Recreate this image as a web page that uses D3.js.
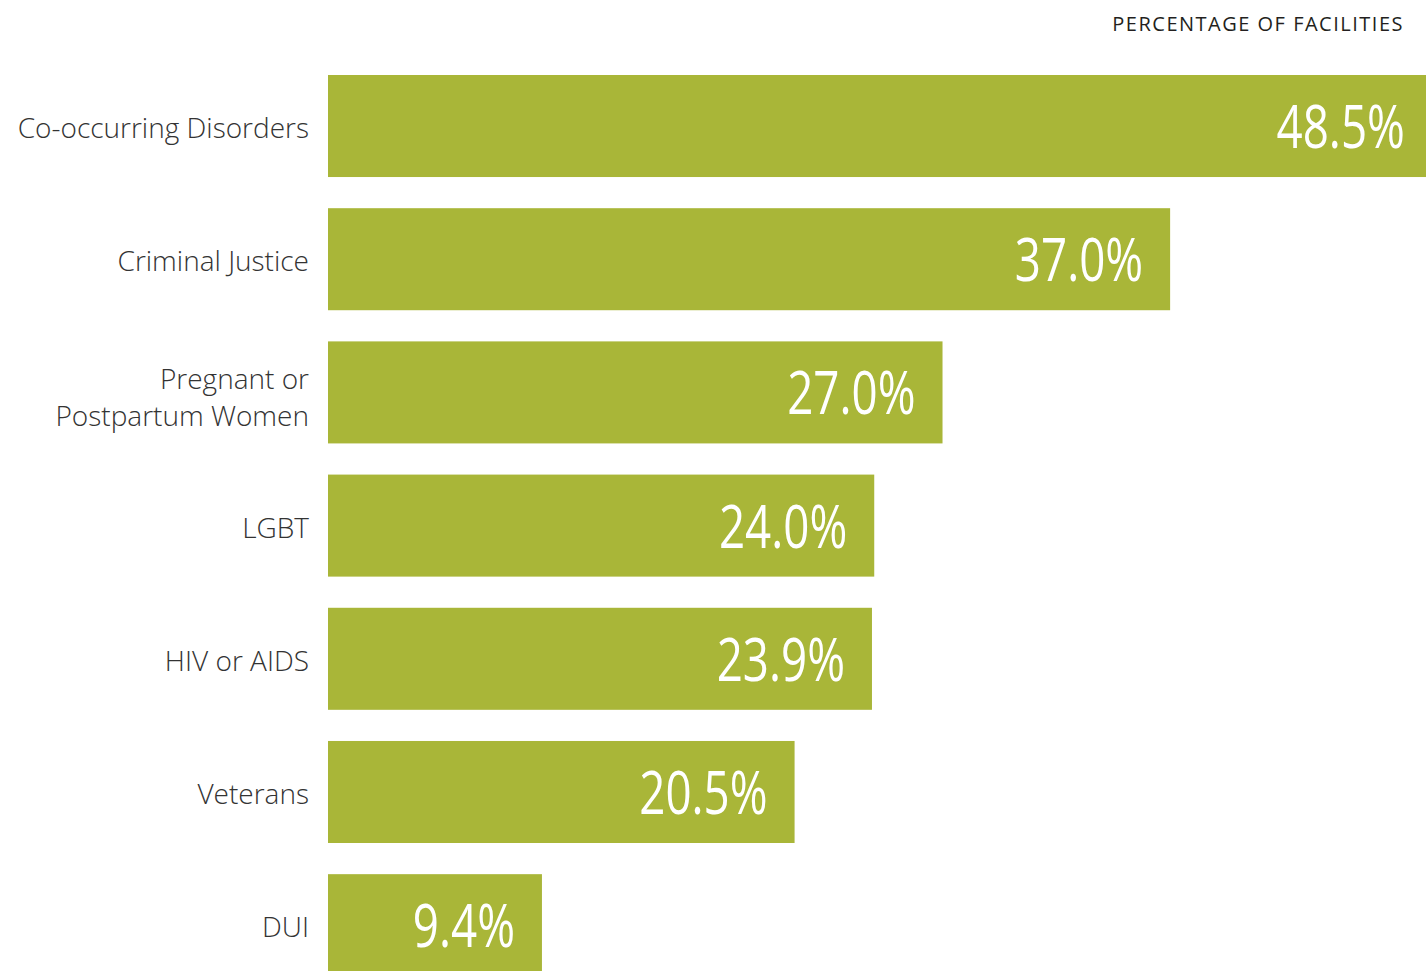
<!DOCTYPE html>
<html>
<head>
<meta charset="utf-8">
<script src="https://cdn.jsdelivr.net/npm/d3@7"></script>
<style>
  html, body { margin: 0; padding: 0; background: #ffffff; }
  svg { display: block; }
</style>
</head>
<body>
<div id="chart"></div>
<script>
// Special programs offered, share of facilities
const categories = [
  ["Co-occurring Disorders"],
  ["Criminal Justice"],
  ["Pregnant or", "Postpartum Women"],
  ["LGBT"],
  ["HIV or AIDS"],
  ["Veterans"],
  ["DUI"]
];
const values = [48.5, 37.0, 27.0, 24.0, 23.9, 20.5, 9.4];
const axisTitle = "PERCENTAGE OF FACILITIES";

const width = 1426, height = 971;
const barColor = "#a9b638";

const svg = d3.select("#chart").append("svg")
  .attr("width", width)
  .attr("height", height);

const keys = categories.map(c => c.join(" "));

const x = d3.scaleLinear().domain([0, 50]).range([328, 328 + 50 * 22.76]);
const y = d3.scaleBand()
  .domain(keys)
  .range([75, 976.2])
  .paddingInner(0.234)
  .paddingOuter(0);

const data = keys.map((k, i) => ({ key: k, lines: categories[i], value: values[i] }));

// Bars
svg.append("g").selectAll("rect")
  .data(data)
  .join("rect")
  .attr("x", x(0))
  .attr("y", d => y(d.key))
  .attr("width", d => x(d.value) - x(0))
  .attr("height", y.bandwidth())
  .attr("fill", barColor);

// Value labels inside bar ends (condensed style)
svg.append("g").selectAll("text")
  .data(data)
  .join("text")
  .attr("transform", d => `translate(${x(d.value) - 27},${y(d.key) + y.bandwidth() / 2 + 22}) scale(0.75,1)`)
  .attr("text-anchor", "end")
  .attr("fill", "#ffffff")
  .style("font-family", "'Open Sans', 'Noto Sans', sans-serif")
  .style("font-size", "61px")
  .style("font-weight", 400)
  .text(d => d.value.toFixed(1) + "%");

// Category labels
const lab = svg.append("g").selectAll("text")
  .data(data)
  .join("text")
  .attr("text-anchor", "end")
  .attr("fill", "#333333")
  .style("font-family", "'Open Sans', 'Noto Sans', sans-serif")
  .style("font-size", "28px")
  .style("font-weight", 300)
  .attr("transform", d => {
    const cy = y(d.key) + y.bandwidth() / 2;
    const n = d.lines.length;
    return `translate(309,${cy + 12 - (n - 1) * 15})`;
  });
lab.selectAll("tspan")
  .data(d => d.lines)
  .join("tspan")
  .attr("x", 0)
  .attr("dy", (d, i) => i === 0 ? 0 : 37)
  .text(d => d);

// Axis title
svg.append("text")
  .attr("x", 1404)
  .attr("y", 31)
  .attr("text-anchor", "end")
  .attr("fill", "#231f20")
  .style("font-family", "'Open Sans', 'Noto Sans', sans-serif")
  .style("font-size", "20px")
  .style("letter-spacing", "1.5px")
  .text(axisTitle);
</script>
</body>
</html>
